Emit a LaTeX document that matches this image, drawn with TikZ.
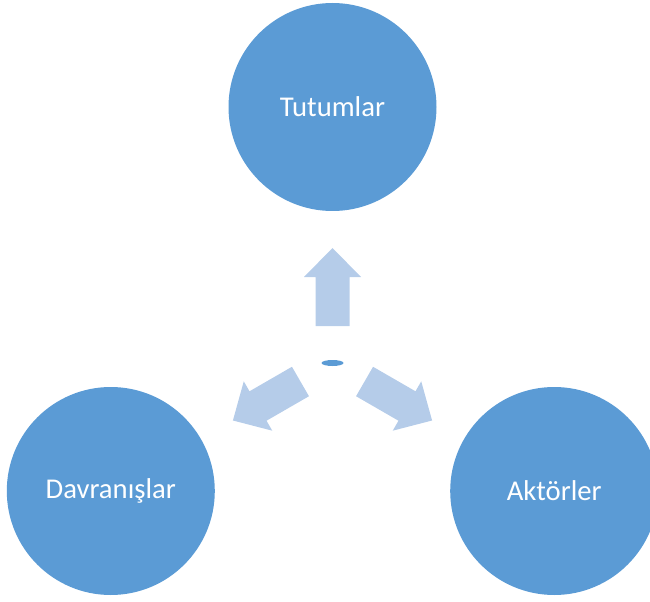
\documentclass[tikz,border=0pt]{standalone}
\usepackage{fontspec}
\setmainfont{Carlito}
\usetikzlibrary{calc}
\definecolor{circblue}{RGB}{91,155,213}
\definecolor{arrblue}{RGB}{181,204,233}
\begin{document}
\begin{tikzpicture}[x=0.75pt, y=0.75pt,
    bigcirc/.style={circle, fill=circblue, text=white, minimum size=156pt, inner sep=0pt,
      font=\fontsize{21.5}{26}\selectfont}]
    \useasboundingbox (0,0) rectangle (650,601);

    \coordinate (c) at (332.5,238);
    \fill[circblue] (c) ellipse (11 and 3);

    \node[bigcirc] (tut) at ($(c)+(90:256)$) {Tutumlar};
    \node[bigcirc] (dav) at ($(c)+(210:256)$) {Davranışlar};
    \node[bigcirc] (akt) at ($(c)+(330:256)$) {Aktörler};

    \foreach \a in {90,210,330}
    {
      \begin{scope}[shift={(c)}, rotate=\a]
        \fill[arrblue] (37,-17) -- (86,-17) -- (86,-28.5) -- (115,0) -- (86,28.5) -- (86,17) -- (37,17) -- cycle;
      \end{scope}
    }

\end{tikzpicture}
\end{document}
